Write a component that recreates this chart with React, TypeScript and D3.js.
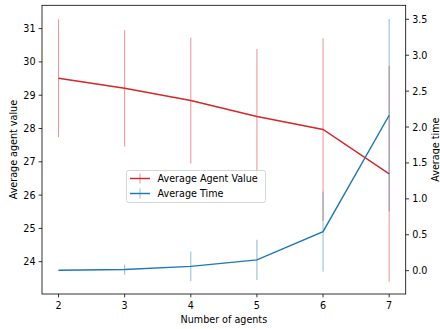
import React from "react";
import * as d3 from "d3";

const agents = [2, 3, 4, 5, 6, 7];
const agentValue = [29.51, 29.21, 28.84, 28.36, 27.97, 26.64];
const agentValueErr = [1.77, 1.75, 1.89, 2.03, 2.74, 3.24];
const avgTime = [0.005, 0.015, 0.06, 0.15, 0.543, 2.164];
const avgTimeErr = [0.005, 0.07, 0.205, 0.28, 0.557, 1.34];
const xTicks = [2, 3, 4, 5, 6, 7];
const leftTicks = [24, 25, 26, 27, 28, 29, 30, 31];
const rightTicks = [0, 0.5, 1, 1.5, 2, 2.5, 3, 3.5];

const W = 440, H = 329;
const L = 42, R = 405.7, T = 5.3, B = 294;
const RED = "#d62728", BLUE = "#1f77b4";
const FONT = "DejaVu Sans, sans-serif";
const FS = 9.6;

export default function App() {
  const x = d3.scaleLinear().domain([1.75, 7.25]).range([L, R]);
  const yL = d3.scaleLinear().domain([23.03, 31.7]).range([B, T]);
  const yR = d3.scaleLinear().domain([-0.325, 3.695]).range([B, T]);
  const lineL = d3.line<number>().x((_, i) => x(agents[i])).y((d) => yL(d));
  const lineR = d3.line<number>().x((_, i) => x(agents[i])).y((d) => yR(d));

  return (
    <svg width={W} height={H} style={{ position: "absolute", left: 0, top: 0 }} fontFamily={FONT}>
      <rect width={W} height={H} fill="#fff" />
      {/* red errorbars */}
      {agents.map((a, i) => (
        <line key={"re" + i} x1={x(a)} x2={x(a)} y1={yL(agentValue[i] - agentValueErr[i])} y2={yL(agentValue[i] + agentValueErr[i])}
          stroke={RED} strokeOpacity={0.5} strokeWidth={1} />
      ))}
      <path d={lineL(agentValue) || ""} fill="none" stroke={RED} strokeWidth={1.45} />
      {/* blue errorbars */}
      {agents.map((a, i) => (
        <line key={"be" + i} x1={x(a)} x2={x(a)} y1={yR(avgTime[i] - avgTimeErr[i])} y2={yR(avgTime[i] + avgTimeErr[i])}
          stroke={BLUE} strokeOpacity={0.5} strokeWidth={1} />
      ))}
      <path d={lineR(avgTime) || ""} fill="none" stroke={BLUE} strokeWidth={1.45} />

      {/* frame */}
      <rect x={L} y={T} width={R - L} height={B - T} fill="none" stroke="#000" strokeWidth={0.8} />

      {/* x axis */}
      {xTicks.map((t) => (
        <g key={"x" + t}>
          <line x1={x(t)} x2={x(t)} y1={B} y2={B + 3.4} stroke="#000" strokeWidth={0.8} />
          <text x={x(t)} y={B + 14.5} textAnchor="middle" fontSize={FS} fill="#000">{t}</text>
        </g>
      ))}
      <text x={(L + R) / 2} y={323} textAnchor="middle" fontSize={FS} fill="#000">Number of agents</text>

      {/* left axis */}
      {leftTicks.map((t) => (
        <g key={"l" + t}>
          <line x1={L - 3.4} x2={L} y1={yL(t)} y2={yL(t)} stroke="#000" strokeWidth={0.8} />
          <text x={L - 6.5} y={yL(t) + 3.5} textAnchor="end" fontSize={FS} fill="#000">{t}</text>
        </g>
      ))}
      <text transform={`translate(16.5,${(T + B) / 2}) rotate(-90)`} textAnchor="middle" fontSize={FS} fill="#000">Average agent value</text>

      {/* right axis */}
      {rightTicks.map((t) => (
        <g key={"r" + t}>
          <line x1={R} x2={R + 3.4} y1={yR(t)} y2={yR(t)} stroke="#000" strokeWidth={0.8} />
          <text x={R + 6.5} y={yR(t) + 3.5} textAnchor="start" fontSize={FS} fill="#000">{t.toFixed(1)}</text>
        </g>
      ))}
      <text transform={`translate(439,${(T + B) / 2}) rotate(-90)`} textAnchor="middle" fontSize={FS} fill="#000">Average time</text>

      {/* legend */}
      <g>
        <rect x={126.5} y={170.5} width={139} height={32} rx={2} fill="#fff" fillOpacity={0.8} stroke="#cccccc" strokeWidth={0.8} />
        {[
          { label: "Average Agent Value", c: RED, y: 178.5 },
          { label: "Average Time", c: BLUE, y: 193.5 },
        ].map((e) => (
          <g key={e.label}>
            <line x1={130} x2={150} y1={e.y} y2={e.y} stroke={e.c} strokeWidth={1.45} />
            <line x1={140} x2={140} y1={e.y - 5} y2={e.y + 5} stroke={e.c} strokeOpacity={0.5} strokeWidth={1} />
            <text x={157.5} y={e.y + 3.5} fontSize={FS} fill="#000">{e.label}</text>
          </g>
        ))}
      </g>
    </svg>
  );
}
